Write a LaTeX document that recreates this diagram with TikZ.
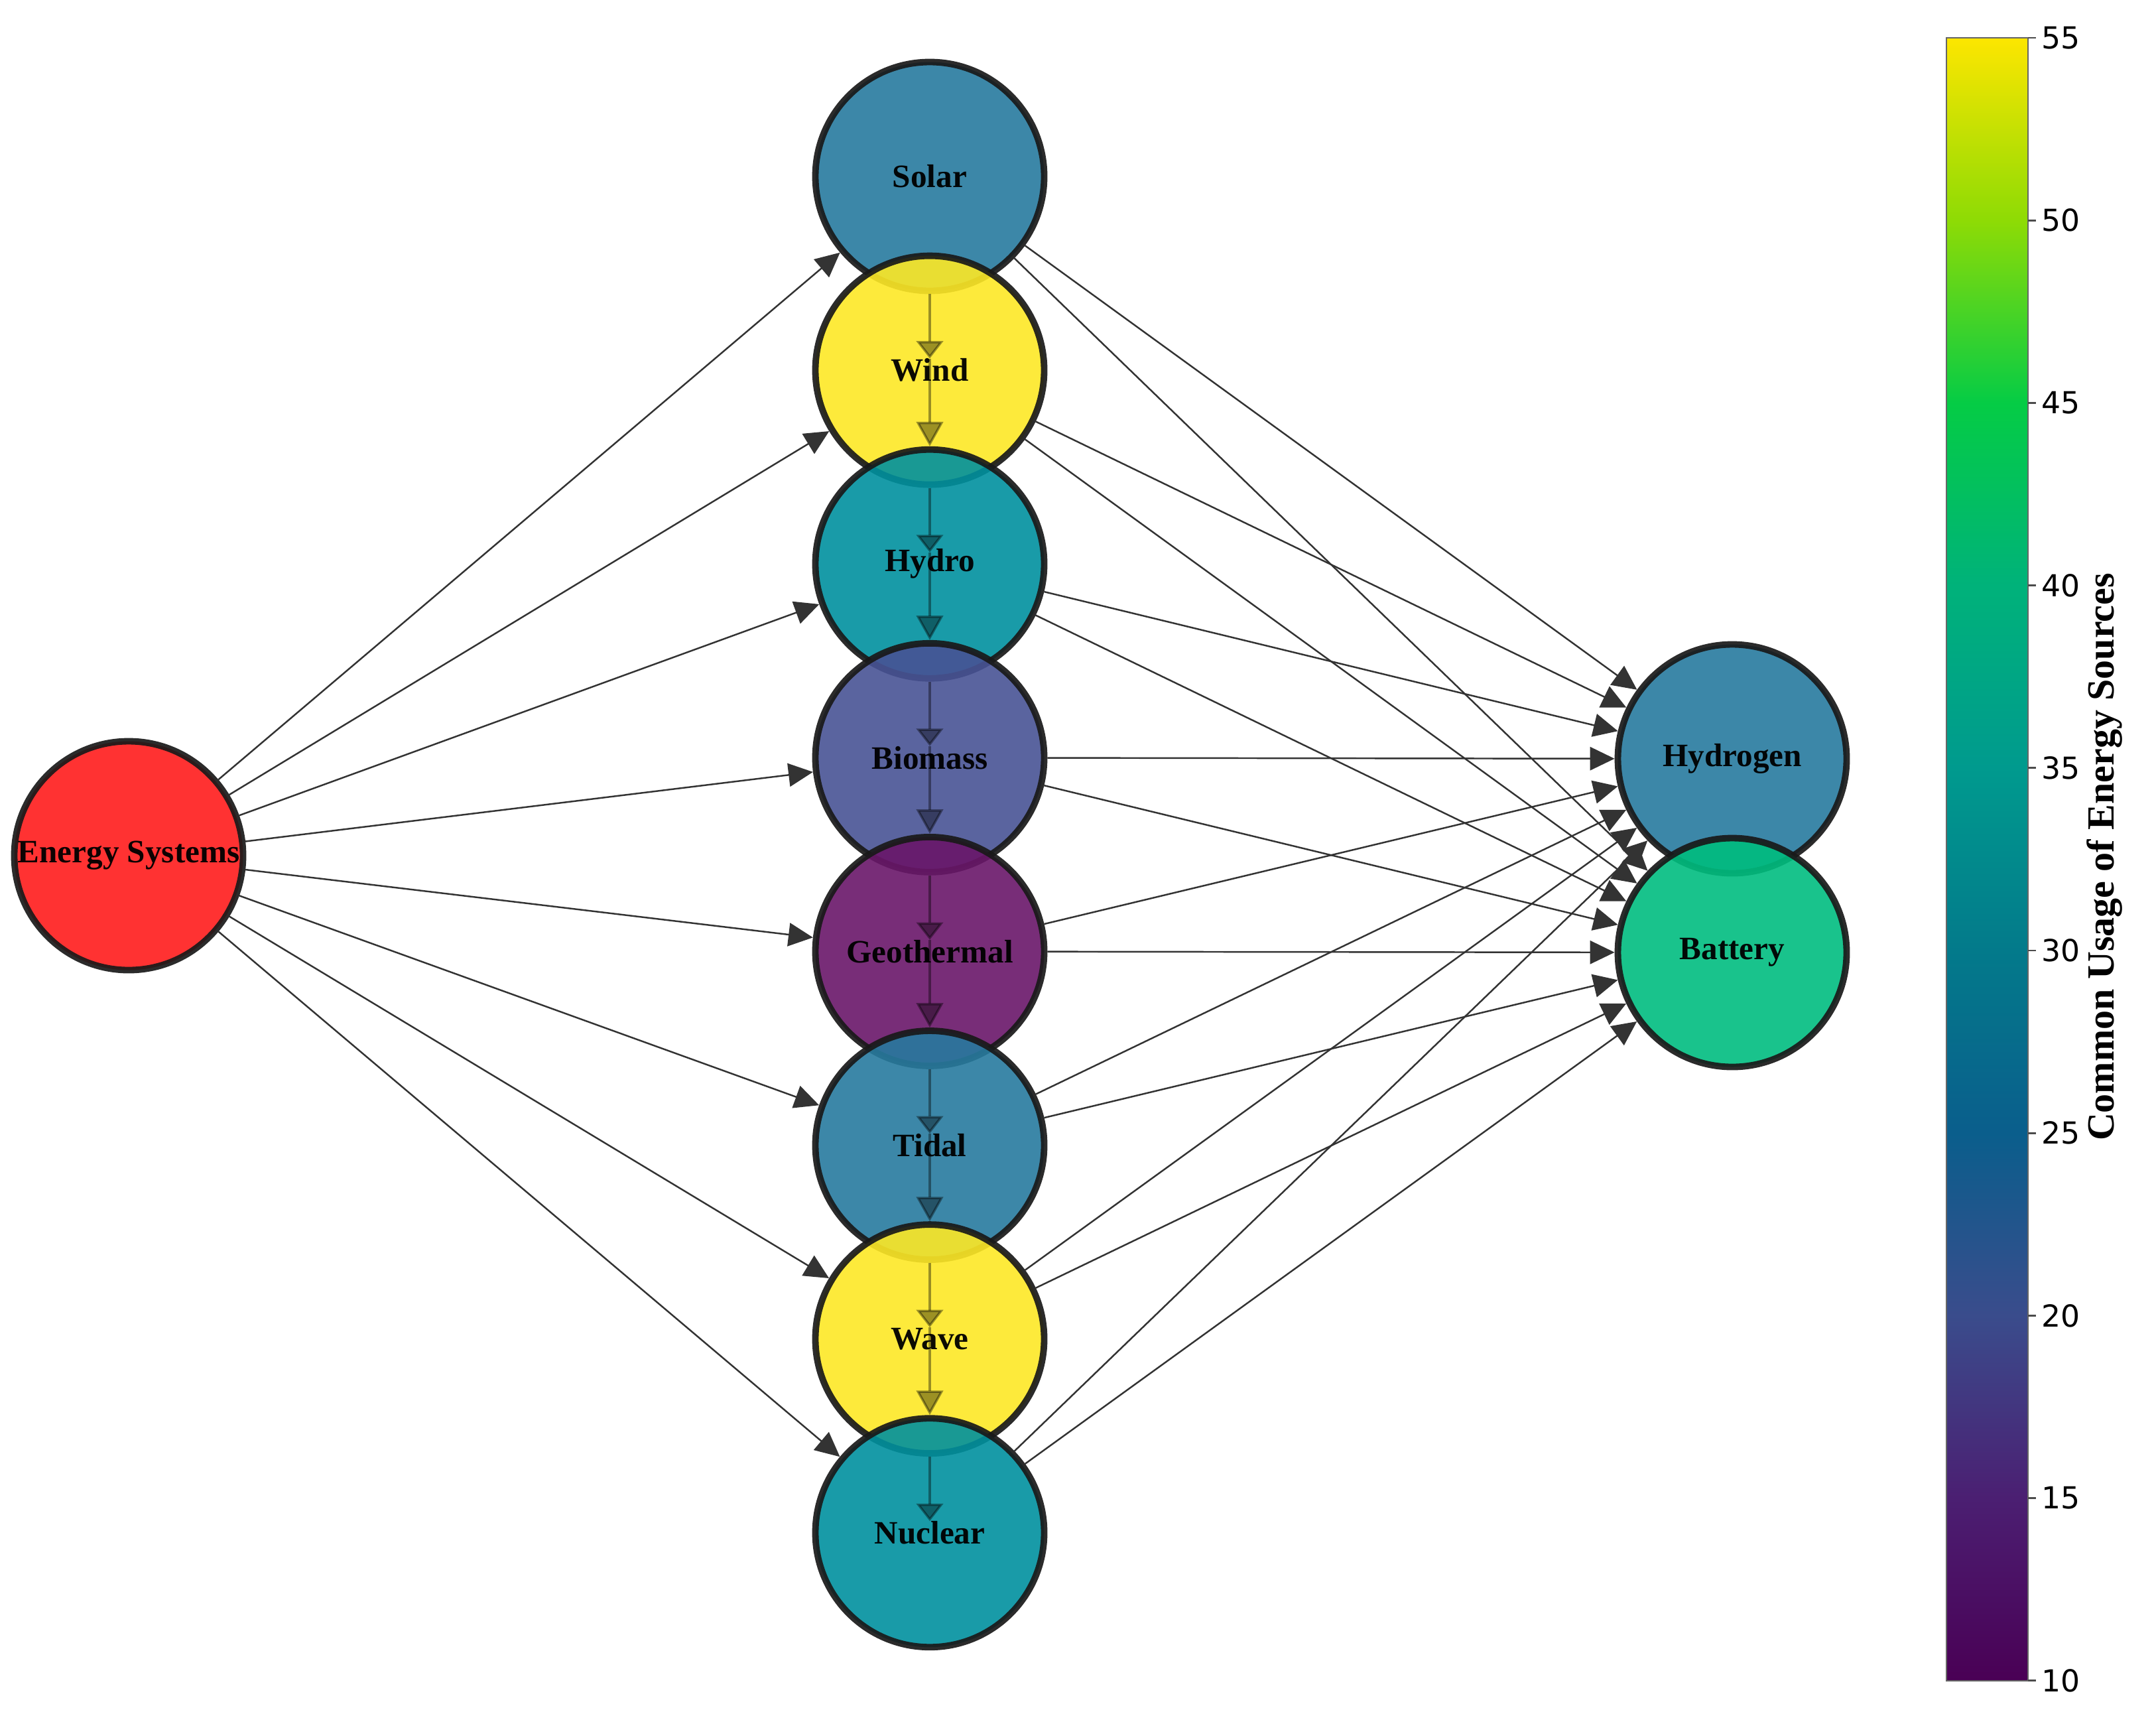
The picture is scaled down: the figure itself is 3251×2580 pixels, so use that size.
\documentclass[tikz,border=0pt]{standalone}
\usepackage{fontspec}
\setmainfont{Liberation Serif}
\newfontfamily\cbarfont{DejaVu Sans}
\usepackage{tikz}
\usetikzlibrary{arrows.meta,backgrounds,calc}

\definecolor{esred}{HTML}{FF1C1C}
\definecolor{solarcol}{HTML}{277A9E}
\definecolor{windcol}{HTML}{FDE826}
\definecolor{hydrocol}{HTML}{00909E}
\definecolor{biomasscol}{HTML}{485395}
\definecolor{geocol}{HTML}{691669}
\definecolor{batterycol}{HTML}{00BD7F}
% colour bar stops, 10 ... 55
\definecolor{vir10}{HTML}{4A0055}
\definecolor{vir15}{HTML}{4B1F72}
\definecolor{vir20}{HTML}{3A4C8C}
\definecolor{vir25}{HTML}{0A5E8C}
\definecolor{vir30}{HTML}{037A8B}
\definecolor{vir35}{HTML}{009A8E}
\definecolor{vir40}{HTML}{00B27A}
\definecolor{vir45}{HTML}{05CC45}
\definecolor{vir50}{HTML}{8EDB05}
\definecolor{vir55}{HTML}{FDE600}
\pgfdeclareverticalshading{viridisbar}{100bp}{%
color(0bp)=(vir10); color(25bp)=(vir10); color(30.556bp)=(vir15);
color(36.111bp)=(vir20); color(41.667bp)=(vir25); color(47.222bp)=(vir30);
color(52.778bp)=(vir35); color(58.333bp)=(vir40); color(63.889bp)=(vir45);
color(69.444bp)=(vir50); color(75bp)=(vir55); color(100bp)=(vir55)}

\begin{document}
\begin{tikzpicture}[x=0.1mm,y=-0.1mm,
  >={Triangle[length=10.5pt,width=10pt]},
  src/.style={circle,minimum size=34.5mm,inner sep=0pt,line width=2.8pt,
    draw=black!90,fill opacity=0.9,draw opacity=0.92,text opacity=0.95,
    font=\fontsize{14}{16}\selectfont\bfseries},
  link/.style={->,draw=black!80,fill=black!80,line width=0.7pt},
  chain/.style={draw=black,fill=black,opacity=0.38,line width=1pt},
  cbtick/.style={draw=black!70,line width=0.8pt},
  cblabel/.style={anchor=west,inner sep=0pt,xshift=2pt,
    font=\cbarfont\fontsize{13}{15}\selectfont},
]
\useasboundingbox (0,0) rectangle (3251,2580);

\node[src,fill=esred] (esys) at (194,1290) {Energy Systems};
\foreach \n/\c [count=\i from 0] in {Solar/solarcol,Wind/windcol,Hydro/hydrocol,%
  Biomass/biomasscol,Geothermal/geocol,Tidal/solarcol,Wave/windcol,Nuclear/hydrocol}
  \node[src,fill=\c] (\n) at (1402,{266+292.1*\i}) {\n};
\node[src,fill=solarcol] (Hydrogen) at (2612,1144) {Hydrogen};
\node[src,fill=batterycol] (Battery) at (2612,1436) {Battery};

\begin{pgfonlayer}{background}
\foreach \n in {Solar,Wind,Hydro,Biomass,Geothermal,Tidal,Wave,Nuclear}{
  \draw[link] (esys) -- (\n);
  \draw[link] (\n) -- (Hydrogen);
  \draw[link] (\n) -- (Battery);
}
\end{pgfonlayer}

% chain down the middle column
\foreach \a/\b in {Solar/Wind,Wind/Hydro,Hydro/Biomass,Biomass/Geothermal,%
  Geothermal/Tidal,Tidal/Wave,Wave/Nuclear}
  \draw[chain,-{Triangle[length=7.5pt,width=11.5pt]}] (\a.south) -- ([yshift=5pt]\b.center);
\foreach \a/\b in {Wind/Hydro,Hydro/Biomass,Biomass/Geothermal,%
  Geothermal/Tidal,Tidal/Wave,Wave/Nuclear}
  \draw[chain,-{Triangle[length=10.5pt,width=11.5pt]}] ([yshift=5pt]\a.center) -- (\b.north);

% colour bar
\shade[shading=viridisbar] (2935,57) rectangle (3058,2534);
\draw[draw=black!60,line width=0.4pt] (2935,57) rectangle (3058,2534);
\foreach \v in {10,15,...,55}{
  \coordinate (t\v) at (3058,{57+(55-\v)*55.04});
  \draw[cbtick] (t\v) -- ++(12,0) node[cblabel] {\v};
}
\node[rotate=90,anchor=base,inner sep=0pt,
  font=\fontsize{16.5}{18}\selectfont\bfseries] (cbtitle) at (3187,1292)
  {Common Usage of Energy Sources};
\end{tikzpicture}
\end{document}
